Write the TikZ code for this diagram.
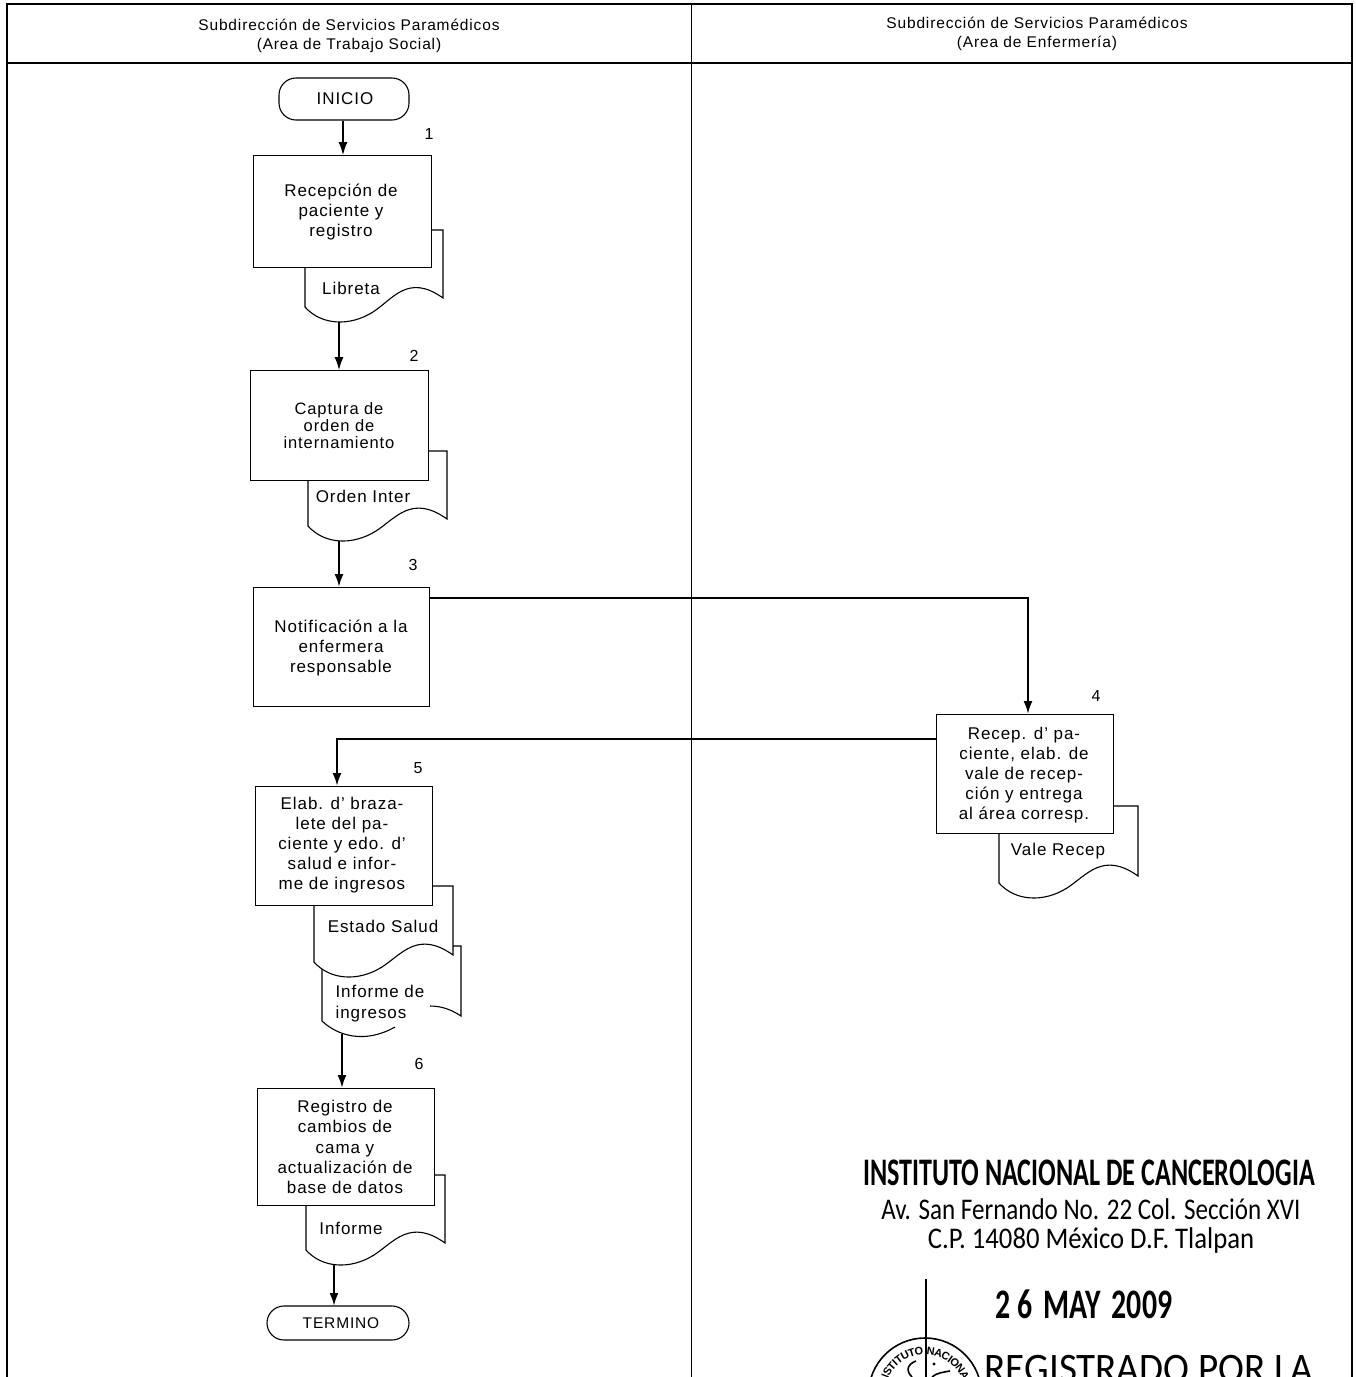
\documentclass[tikz,border=0pt]{standalone}
\usepackage{fontspec}
\setmainfont{Liberation Sans}[LetterSpace=5.5]
\newfontfamily\stampfont{Carlito}
\newcommand{\apo}{\symbol{39}}
\usetikzlibrary{arrows.meta,decorations.text}
\tikzset{
  x=1pt,y=-1pt,
  every node/.style={font=\fontsize{17}{20.2}\selectfont,align=center,inner sep=0pt,text=black},
  frame/.style={line width=1.4pt,black},
  procbox/.style={draw=black,fill=white,line width=1pt,anchor=north west},
  terminal/.style={draw=black,fill=white,line width=1.1pt,rounded corners=17pt},
  doc/.style={draw=black,fill=white,line width=1.1pt},
  flow/.style={line width=1.2pt,-{Latex[length=13pt,width=9pt]}},
  heavy/.style={line width=2.2pt,-{Latex[length=13pt,width=9pt]}},
  steplabel/.style={font=\fontsize{16}{18}\selectfont},
  headlabel/.style={font=\fontsize{15.5}{19.5}\selectfont},
  stamp/.style={text=black,font=\stampfont},
}
\newcommand{\docpath}[7]{% left,right,boxright,topY,sideTopY,leftBottomY,rightBottomY
  \draw[doc] (#1,#4) -- (#1,#6)
    .. controls (#1+16,#6+18) and (#1+44,#6+20) .. (#1+68,#6+5)
    .. controls (#1+88,#6-8) and (#2-35,#7-25) .. (#2,#7)
    -- (#2,#5) -- (#3,#5);
}
\begin{document}
\begin{tikzpicture}
\useasboundingbox (0,0) rectangle (1356,1377);
\clip (0,0) rectangle (1356,1377);
\fill[white] (0,0) rectangle (1356,1377);

% frame
\draw[frame] (7,1377) -- (7,4) -- (1352,4) -- (1352,1377);
\draw[frame] (7,63) -- (1352,63);
\draw[frame] (691.5,4) -- (691.5,1377);
\node[headlabel] (h1) at (349,36) {Subdirección de Servicios Paramédicos\\(Area de Trabajo Social)};
\node[headlabel] (h2) at (1037,34) {Subdirección de Servicios Paramédicos\\(Area de Enfermería)};

% documents behind boxes
\docpath{305}{443}{431}{267}{230}{307}{298}
\docpath{308}{447}{428}{480}{451}{526}{519}
\docpath{999}{1138}{1113}{833}{806}{883}{876}
\draw[doc] (322,968) -- (322,1021) .. controls (338,1036) and (365,1044) .. (395,1027);
\draw[doc] (430,1006) .. controls (442,1006) and (452,1010) .. (461,1016) -- (461,946) -- (453,946);
\docpath{314}{453}{433}{905}{886}{962}{955}
\docpath{306}{445}{435}{1205}{1175}{1250}{1243}

% process boxes
\node[procbox,minimum width=177.5pt,minimum height=112pt] (b1) at (253,155) {};
\node at (341,212) {Recepción de\\paciente y\\registro};
\node[procbox,minimum width=177.5pt,minimum height=110pt] (b2) at (250,370) {};
\node[font=\fontsize{16.5}{17}\selectfont] at (339,425.5) {Captura de\\orden de\\internamiento};
\node[procbox,minimum width=176pt,minimum height=119pt] (b3) at (253,587) {};
\node at (341,648) {Notificación a la\\enfermera\\responsable};
\node[procbox,minimum width=177pt,minimum height=119pt] (b4) at (936,714) {};
\node at (1024,775) {Recep. d\apo{} pa-\\ciente, elab. de\\vale de recep-\\ción y entrega\\al área corresp.};
\node[procbox,minimum width=177pt,minimum height=119pt] (b5) at (255,786) {};
\node at (342,845) {Elab. d\apo{} braza-\\lete del pa-\\ciente y edo. d\apo\\salud e infor-\\me de ingresos};
\node[procbox,minimum width=177pt,minimum height=117pt] (b6) at (257,1088) {};
\node at (345,1147) {Registro de\\cambios de\\cama y\\actualización de\\base de datos};

% terminals
\node[terminal,minimum width=130pt,minimum height=42pt] (ini) at (344,99) {\hspace*{2pt}INICIO};
\node[terminal,minimum width=142pt,minimum height=34pt,font=\fontsize{15.5}{18}\selectfont] (ter) at (338,1323) {\hspace*{6pt}TERMINO};

% document labels
\node (d1) at (351,288) {Libreta};
\node (d2) at (363,496) {Orden Inter};
\node (d4) at (1058,851.5) {Vale Recep};
\node (d5) at (383,926) {Estado Salud};
\node[align=left] (d5b) at (381,1003.5) {Informe de\\ingresos\hspace*{20pt}};
\node (d6) at (351,1228) {Informe};

% step numbers
\node[steplabel] at (429,134) {1};
\node[steplabel] at (414,355.5) {2};
\node[steplabel] at (413,565) {3};
\node[steplabel] at (1096,696) {4};
\node[steplabel] at (418,768.5) {5};
\node[steplabel] at (419,1064) {6};

% connector ends
\coordinate (c1) at (339,322);
\coordinate (c2) at (339,541);
\coordinate (c5) at (342,1034);
\coordinate (c6) at (334,1265);
\draw[flow] (ini.south -| 343,0) -- (343,155);
\draw[flow] (c1) -- (339,370);
\draw[heavy] (c2) -- (339,587);
\draw[heavy] (b3.north east |- 0,598) -- (1028,598) -- (1028,714);
\draw[heavy] (b4.west |- 0,739) -- (337,739) -- (337,786);
\draw[heavy] (c5) -- (342,1088);
\draw[heavy] (c6) -- (334,1306);

% stamp
\node[stamp,font=\stampfont\bfseries\fontsize{39}{40}\selectfont,xscale=.67] (s1) at (1089,1173) {INSTITUTO NACIONAL DE CANCEROLOGIA};
\node[stamp,font=\stampfont\fontsize{30}{30}\selectfont,xscale=.835] (s2) at (1091,1209) {Av. San Fernando No. 22 Col. Sección XVI};
\node[stamp,font=\stampfont\fontsize{30}{30}\selectfont,xscale=.89] (s3) at (1091,1240) {C.P. 14080 México D.F. Tlalpan};
\node[stamp,font=\stampfont\bfseries\fontsize{42}{40}\selectfont,xscale=.71] (s4) at (1084,1304) {2 6\hspace{6pt} MAY\hspace{6pt} 2009};
\node[stamp,font=\stampfont\fontsize{42}{42}\selectfont,xscale=.93] (s5) at (1149,1369) {REGISTRADO POR LA};
% seal
\draw[line width=1.4pt] (926,1279) -- (926,1377);
\draw[line width=1.6pt] (925,1394.5) circle (56.5);
\path[decorate,decoration={text along path,text align=center,raise=-4pt,
   text={|\fontsize{11}{11}\selectfont\bfseries|INSTITUTO NACIONAL}}]
   (881,1394.5) arc (180:360:44);
\draw[line width=1.6pt] (912,1377) .. controls (905,1370) and (908,1364) .. (916,1361)
   (932,1377) .. controls (936,1373) and (944,1372) .. (950,1371);
\fill (934,1364) circle (1.6);
\end{tikzpicture}
\end{document}
